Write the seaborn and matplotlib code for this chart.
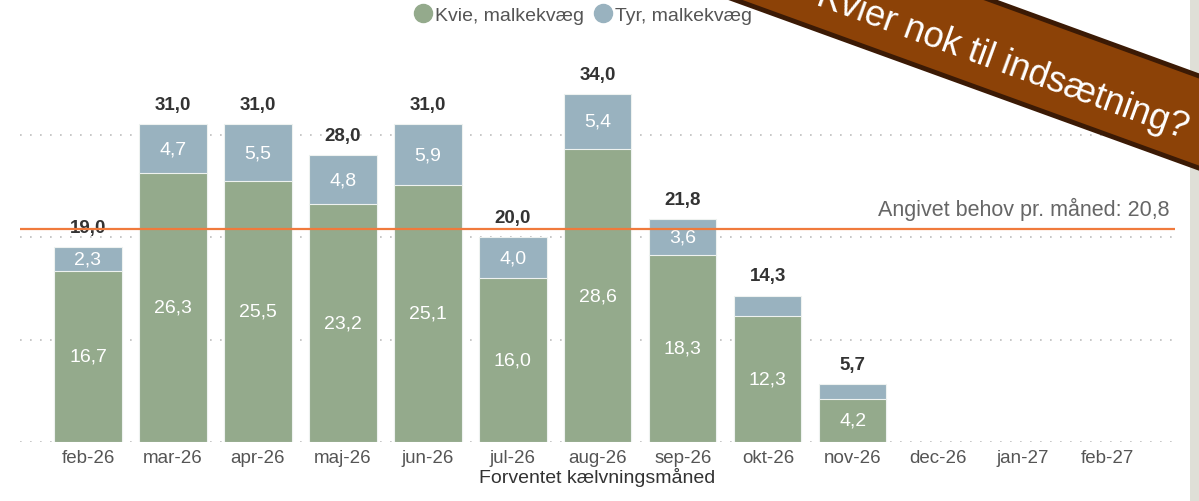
import numpy as np
import pandas as pd
import matplotlib
matplotlib.use("Agg")
import matplotlib.pyplot as plt
from matplotlib.patches import Polygon, Rectangle
from matplotlib.lines import Line2D
import seaborn as sns

months = ["feb-26", "mar-26", "apr-26", "maj-26", "jun-26", "jul-26", "aug-26",
          "sep-26", "okt-26", "nov-26", "dec-26", "jan-27", "feb-27"]
kvie = [16.7, 26.3, 25.5, 23.2, 25.1, 16.0, 28.6, 18.3, 12.3, 4.2, np.nan, np.nan, np.nan]
tyr = [2.3, 4.7, 5.5, 4.8, 5.9, 4.0, 5.4, 3.6, 2.0, 1.5, np.nan, np.nan, np.nan]
total = [19.0, 31.0, 31.0, 28.0, 31.0, 20.0, 34.0, 21.8, 14.3, 5.7, np.nan, np.nan, np.nan]
behov = 20.8

green = "#94aa8c"
blue = "#99b2bf"
orange = "#f07a3c"

df = pd.DataFrame({"maaned": months, "kvie": kvie, "tyr": tyr, "total": total})

sns.set_style("white")
plt.rcParams["font.family"] = ["Liberation Sans", "DejaVu Sans"]

fig = plt.figure(figsize=(11.99, 5.02), dpi=100)
ax = fig.add_axes([20 / 1199, 59 / 502, 1155 / 1199, 379 / 502])

sns.barplot(data=df, x="maaned", y="total", order=months, color=blue,
            width=0.79, edgecolor="#eef2f0", linewidth=0.8, saturation=1, ax=ax)
sns.barplot(data=df, x="maaned", y="kvie", order=months, color=green,
            width=0.79, edgecolor="#eef2f0", linewidth=0.8, saturation=1, ax=ax)

ax.set_xlim(-0.8, 12.79)
ax.set_ylim(0, 37)
ax.set_yticks([0, 10, 20, 30])
ax.set_yticklabels([])
ax.tick_params(axis="y", length=0)
ax.tick_params(axis="x", length=0, labelsize=13.5, labelcolor="#555555", pad=5)
ax.yaxis.grid(True, color="#bdbdbd", linestyle=(0, (1, 5)), linewidth=1.2)
ax.set_axisbelow(True)
sns.despine(ax=ax, left=True, bottom=True)
ax.set_ylabel("")
ax.set_xlabel("Forventet kælvningsmåned", fontsize=14, color="#333333", labelpad=1)

def fmt(v):
    return f"{v:.1f}".replace(".", ",")

for i in range(len(months)):
    if np.isnan(total[i]):
        continue
    ax.text(i, kvie[i] / 2, fmt(kvie[i]), ha="center", va="center",
            color="white", fontsize=14)
    if tyr[i] > 2.1:
        ax.text(i, kvie[i] + (total[i] - kvie[i]) / 2, fmt(tyr[i]),
                ha="center", va="center", color="white", fontsize=14)
    ax.annotate(fmt(total[i]), (i, total[i]), xytext=(0, 8), textcoords="offset points",
                ha="center", va="bottom", fontsize=13.5, fontweight="bold", color="#333333")

ax.axhline(behov, color=orange, linewidth=1.6, zorder=5)
ax.text(12.72, behov + 0.9, f"Angivet behov pr. måned: {fmt(behov)}",
        ha="right", va="bottom", fontsize=15.5, color="#666666")

handles = [Line2D([], [], marker="o", linestyle="", markersize=13,
                  markerfacecolor=green, markeredgecolor=green),
           Line2D([], [], marker="o", linestyle="", markersize=13,
                  markerfacecolor=blue, markeredgecolor=blue)]
fig.legend(handles, ["Kvie, malkekvæg", "Tyr, malkekvæg"], loc="center",
           bbox_to_anchor=(578 / 1199, 1 - 16 / 502), ncol=2, frameon=False,
           handletextpad=-0.4, columnspacing=0.0, fontsize=14, labelcolor="#555555")

# grey strip at right edge
fig.add_artist(Rectangle((1190 / 1199, 0), 9 / 1199, 1, transform=fig.transFigure,
                         facecolor="#dfdfd7", edgecolor="none", zorder=1))

# diagonal banner
def px(x, y):
    return (x / 1199, 1 - y / 502)

pts = [px(900, -32), px(1320, 121), px(1320, 213), px(650, -30)]
fig.add_artist(Polygon(pts, closed=True, transform=fig.transFigure,
                       facecolor="#8c4207", edgecolor="#3b1a05", linewidth=3.5, zorder=10))
fig.text(1002 / 1199, 1 - 63 / 502, "Kvier nok til indsætning?", rotation=-20,
         rotation_mode="anchor", ha="center", va="center", fontsize=26,
         color="white", zorder=11)

fig.savefig("out.png", dpi=100)
